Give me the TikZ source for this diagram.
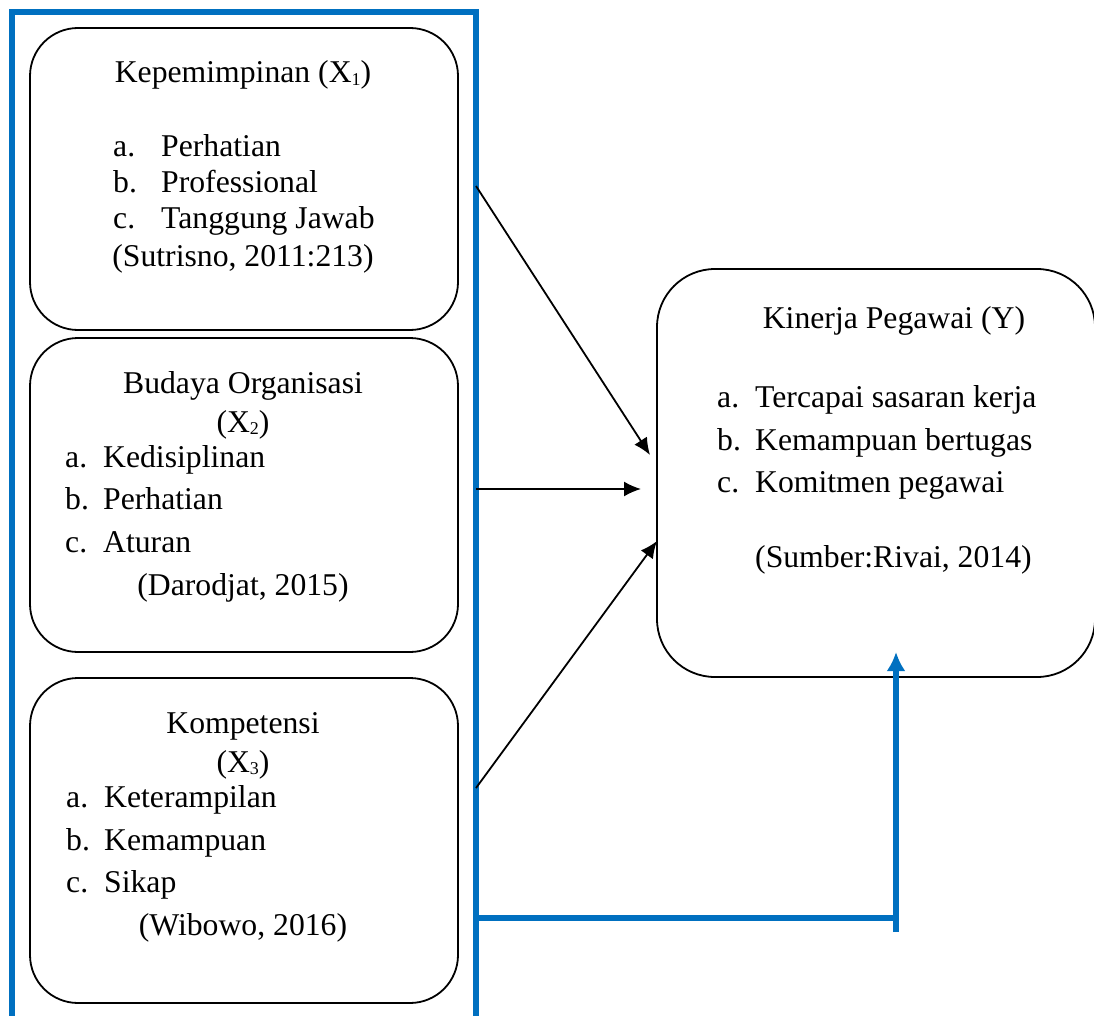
\documentclass[tikz,border=0pt]{standalone}
\usepackage{fontspec}
\setmainfont{Liberation Serif}
\usetikzlibrary{arrows.meta}
\definecolor{bblue}{RGB}{0,112,192}
\newcommand{\itm}[3]{\makebox[#1pt][l]{#2}#3}
\newcommand{\sub}[1]{\raisebox{-2.5pt}{\fontsize{18}{18}\selectfont #1}}

\begin{document}
\begin{tikzpicture}[x=1pt,y=-1pt,>={Latex[length=17pt,width=15pt]},
    every node/.style={font=\fontsize{31.7}{36}\selectfont},
    box/.style={draw,line width=1.8pt,rounded corners=48pt,inner sep=0pt},
    txt/.style={anchor=base,inner sep=0pt},
    ltxt/.style={anchor=base west,inner sep=0pt}]
    \useasboundingbox (0,0) rectangle (1094,1016);

    % boxes
    \node[box,minimum width=428pt,minimum height=302pt] (lead) at (244,179) {};
    \node[box,minimum width=428pt,minimum height=314pt] (cult) at (244,495) {};
    \node[box,minimum width=428pt,minimum height=325pt] (comp) at (244,840.5) {};
    \node[box,minimum width=438pt,minimum height=408pt,rounded corners=58pt] (perf) at (876,473) {};

    % Kepemimpinan
    \node[txt] (lead-t) at (243,83) {Kepemimpinan (X\sub{1})};
    \node[ltxt] (lead-a) at (113,157) {\itm{48}{a.}{Perhatian}};
    \node[ltxt] (lead-b) at (113,193) {\itm{48}{b.}{Professional}};
    \node[ltxt] (lead-c) at (113,229) {\itm{48}{c.}{Tanggung Jawab}};
    \node[txt] (lead-s) at (243,266) {(Sutrisno, 2011:213)};

    % Budaya Organisasi
    \node[txt] (cult-t) at (243,393) {Budaya Organisasi};
    \node[txt] (cult-x) at (243,432) {(X\sub{2})};
    \node[ltxt] (cult-a) at (65,467) {\itm{38}{a.}{Kedisiplinan}};
    \node[ltxt] (cult-b) at (65,509) {\itm{38}{b.}{Perhatian}};
    \node[ltxt] (cult-c) at (65,552) {\itm{38}{c.}{Aturan}};
    \node[txt] (cult-s) at (243,595) {(Darodjat, 2015)};

    % Kompetensi
    \node[txt] (comp-t) at (243,733) {Kompetensi};
    \node[txt] (comp-x) at (243,772) {(X\sub{3})};
    \node[ltxt] (comp-a) at (66,807) {\itm{38}{a.}{Keterampilan}};
    \node[ltxt] (comp-b) at (66,850) {\itm{38}{b.}{Kemampuan}};
    \node[ltxt] (comp-c) at (66,892) {\itm{38}{c.}{Sikap}};
    \node[txt] (comp-s) at (243,935) {(Wibowo, 2016)};

    % Kinerja Pegawai
    \node[txt] (perf-t) at (894,328) {Kinerja Pegawai (Y)};
    \node[ltxt] (perf-a) at (717,407) {\itm{38}{a.}{Tercapai sasaran kerja}};
    \node[ltxt] (perf-b) at (717,450) {\itm{38}{b.}{Kemampuan bertugas}};
    \node[ltxt] (perf-c) at (717,492) {\itm{38}{c.}{Komitmen pegawai}};
    \node[ltxt] (perf-s) at (755,567) {(Sumber:Rivai, 2014)};

    % blue frame round the three boxes
    \draw[bblue,line width=5.5pt] (12,1030) -- (12,12) -- (476,12) -- (476,1030);

    % arrow ends
    \coordinate (s1) at (476,186);
    \coordinate (s2) at (476,489);
    \coordinate (s3) at (476,788);
    \coordinate (e1) at (650,455);
    \coordinate (e2) at (641,489);
    \coordinate (e3) at (657,541);
    \coordinate (fb) at (476,918);
    \coordinate (fc) at (896,918);
    \coordinate (fe) at (896,932);
    \coordinate (ey) at (896,652);

    \draw[->,line width=1.8pt] (s1) -- (e1);
    \draw[->,line width=1.8pt] (s2) -- (e2);
    \draw[->,line width=1.8pt] (s3) -- (e3);

    \draw[bblue,line width=5.5pt] (fb) -- (fc);
    \draw[bblue,line width=5.5pt,-{Latex[length=19pt,width=19pt]}] (fe) -- (ey);
\end{tikzpicture}
\end{document}
